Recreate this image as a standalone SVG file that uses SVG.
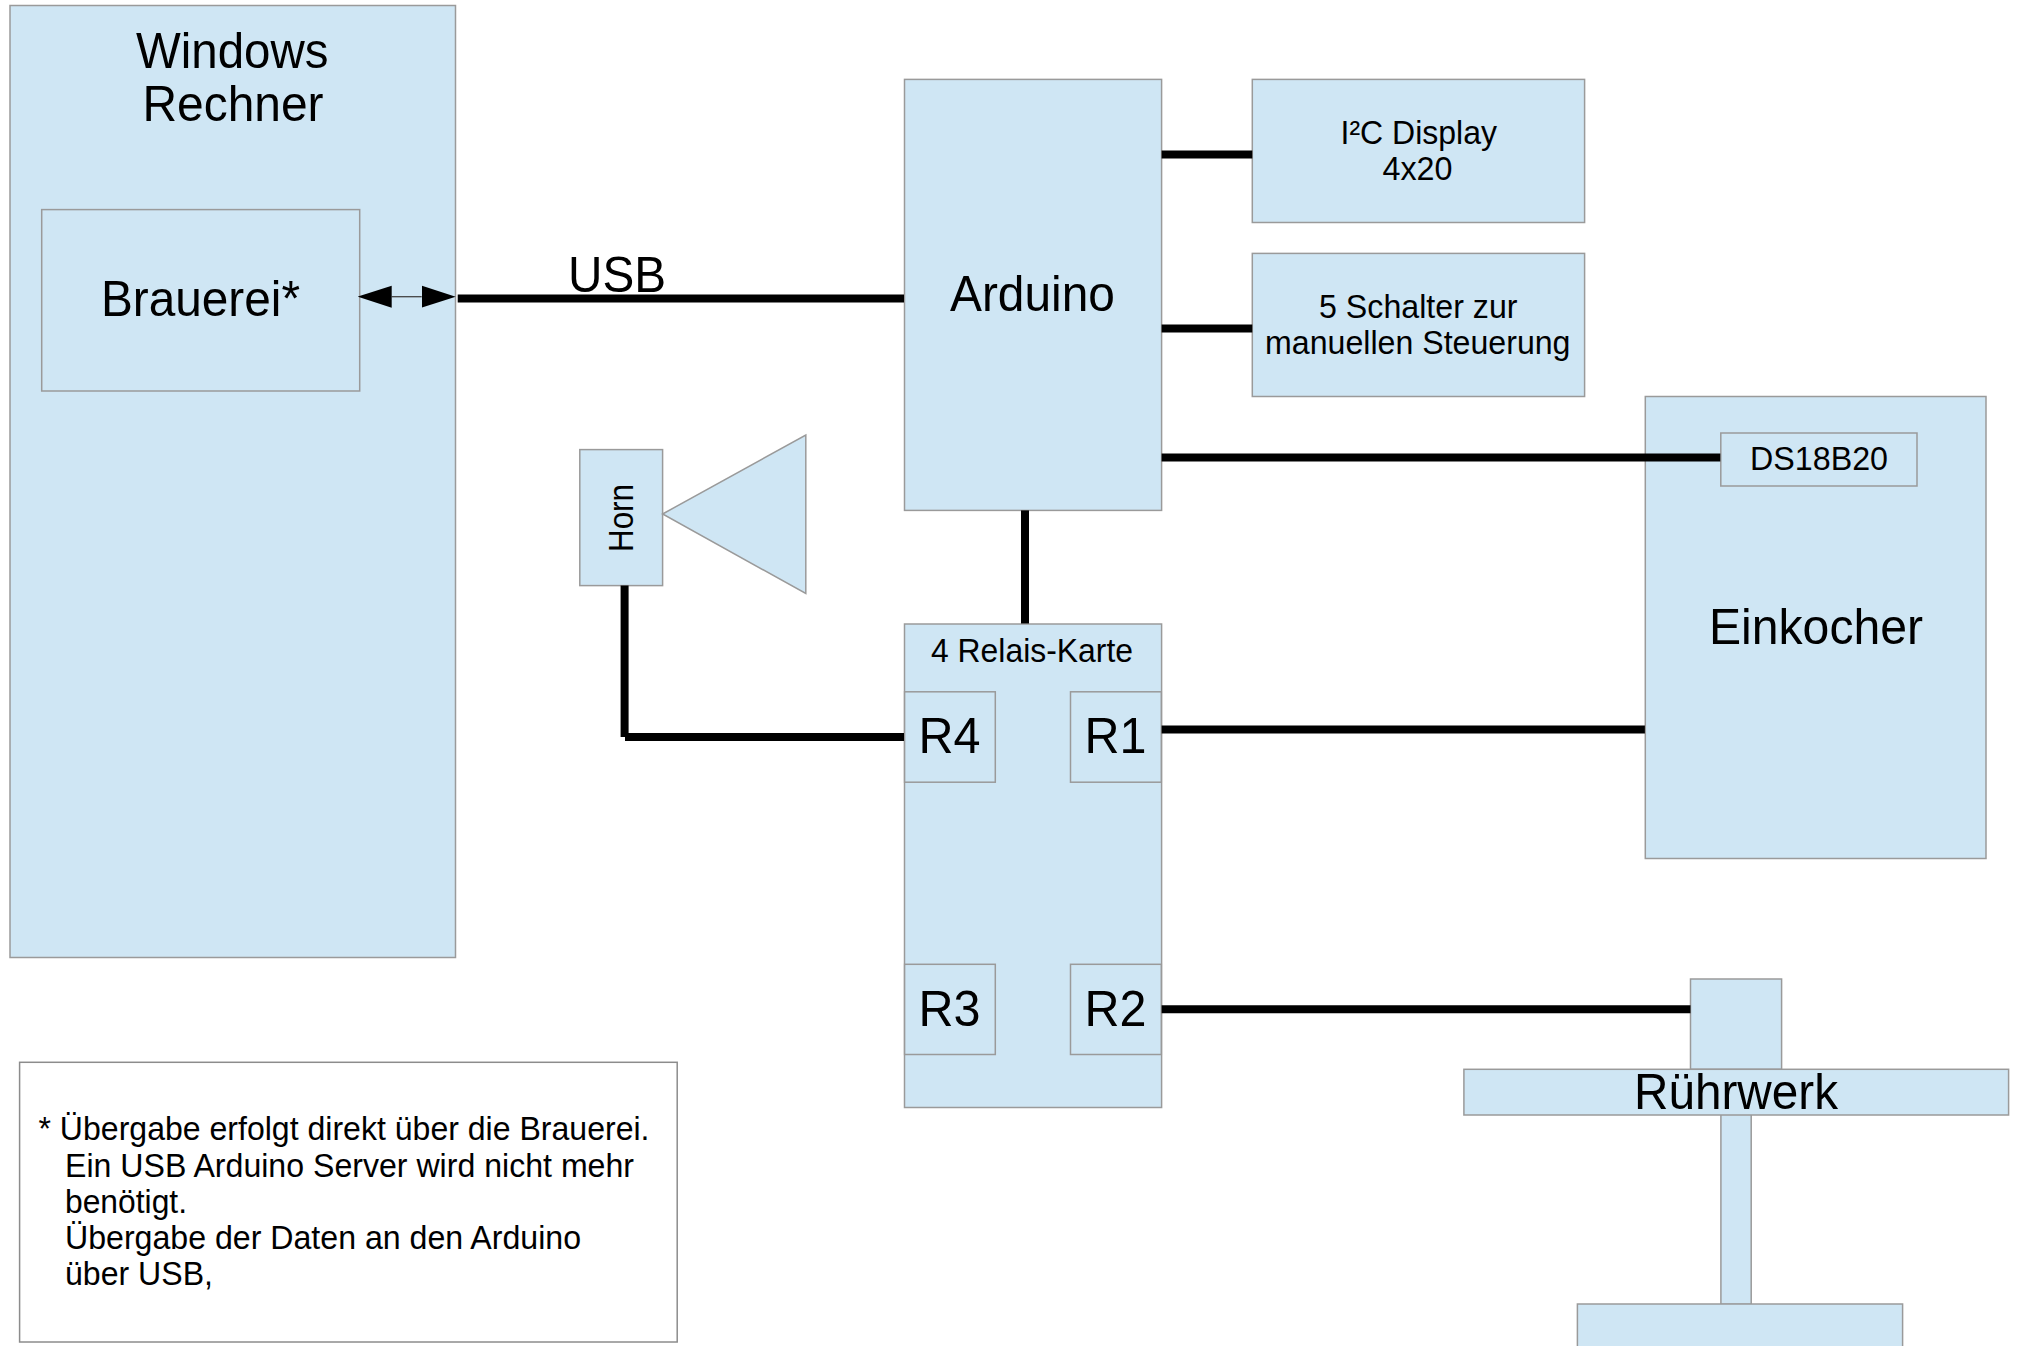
<svg xmlns="http://www.w3.org/2000/svg" width="2018" height="1346" viewBox="0 0 2018 1346">
<style>
.b{fill:#cfe6f4;stroke:#9a9a9a;stroke-width:1.5}
.n{fill:#fff;stroke:#8c8c8c;stroke-width:1.5}
.w{fill:none;stroke:#000;stroke-width:8}
text{font-family:"Liberation Sans",Arial,sans-serif;fill:#000}
.l{font-size:50px}
.m{font-size:33px}
</style>
<defs>
<marker id="a" markerUnits="userSpaceOnUse" markerWidth="34" markerHeight="24" refX="0" refY="12" orient="auto-start-reverse" viewBox="0 0 34 24"><path d="M0 1L34 12L0 23Z" fill="#000"/></marker>
</defs>
<rect width="2018" height="1346" fill="#fff"/>
<g id="windows"><rect class="b" x="10" y="5.5" width="445.5" height="952"/>
<text class="l" x="136" y="68" textLength="192.5" lengthAdjust="spacingAndGlyphs">Windows</text>
<text class="l" x="142.5" y="121" textLength="181" lengthAdjust="spacingAndGlyphs">Rechner</text></g>
<g id="brauerei"><rect class="b" x="41.7" y="209.6" width="318" height="181.4"/>
<text class="l" x="101" y="316" textLength="199" lengthAdjust="spacingAndGlyphs">Brauerei*</text></g>
<g id="arduino"><rect class="b" x="904.5" y="79.4" width="257.1" height="431"/>
<text class="l" x="950" y="311" textLength="165" lengthAdjust="spacingAndGlyphs">Arduino</text></g>
<g id="display"><rect class="b" x="1252.3" y="79.4" width="332.3" height="143.1"/>
<text class="m" x="1340.5" y="143.8" textLength="156.5" lengthAdjust="spacingAndGlyphs">I²C Display</text>
<text class="m" x="1382.5" y="179.8" textLength="70" lengthAdjust="spacingAndGlyphs">4x20</text></g>
<g id="schalter"><rect class="b" x="1252.3" y="253.4" width="332.3" height="143.1"/>
<text class="m" x="1319" y="317.8" textLength="198.5" lengthAdjust="spacingAndGlyphs">5 Schalter zur</text>
<text class="m" x="1265" y="354.2" textLength="305.5" lengthAdjust="spacingAndGlyphs">manuellen Steuerung</text></g>
<g id="einkocher"><rect class="b" x="1645.3" y="396.5" width="340.7" height="462"/>
<text class="l" x="1709" y="644" textLength="214" lengthAdjust="spacingAndGlyphs">Einkocher</text></g>
<g id="ds18b20"><rect class="b" x="1720.8" y="433" width="196.2" height="53"/>
<text class="m" x="1750" y="469.6" textLength="138" lengthAdjust="spacingAndGlyphs">DS18B20</text></g>
<g id="horn"><rect class="b" x="579.8" y="449.6" width="82.8" height="136"/>
<text transform="translate(632.6 552) rotate(-90) scale(1 1.15)" font-size="30" textLength="68" lengthAdjust="spacingAndGlyphs">Horn</text></g>
<g id="trichter"><polygon class="b" points="662.6,514 805.8,435 805.8,593.5"/></g>
<g id="relais"><rect class="b" x="904.5" y="624" width="257.1" height="483.5"/>
<text class="m" x="931" y="662" textLength="202" lengthAdjust="spacingAndGlyphs">4 Relais-Karte</text></g>
<g id="r4"><rect class="b" x="904.6" y="691.8" width="90.7" height="90.4"/>
<text class="l" x="918.5" y="753" textLength="62" lengthAdjust="spacingAndGlyphs">R4</text></g>
<g id="r1"><rect class="b" x="1070.5" y="691.8" width="90.8" height="90.4"/>
<text class="l" x="1084.5" y="753" textLength="62" lengthAdjust="spacingAndGlyphs">R1</text></g>
<g id="r3"><rect class="b" x="904.6" y="964.3" width="90.7" height="90.2"/>
<text class="l" x="918.5" y="1026" textLength="62" lengthAdjust="spacingAndGlyphs">R3</text></g>
<g id="r2"><rect class="b" x="1070.5" y="964.3" width="90.8" height="90.2"/>
<text class="l" x="1084.5" y="1026" textLength="62" lengthAdjust="spacingAndGlyphs">R2</text></g>
<g id="motor"><rect class="b" x="1690.5" y="979" width="91.1" height="90.3"/></g>
<g id="welle"><rect class="b" x="1720.9" y="1114.3" width="30.3" height="190"/></g>
<g id="sockel"><rect class="b" x="1577.4" y="1304" width="325.2" height="60"/></g>
<g id="ruehrwerk"><rect class="b" x="1463.9" y="1069.3" width="544.7" height="45.7"/>
<text class="l" x="1634" y="1109.3" textLength="204" lengthAdjust="spacingAndGlyphs">Rührwerk</text></g>
<g id="hinweis"><rect class="n" x="19.6" y="1062.3" width="657.6" height="279.7"/>
<text class="m" x="38.5" y="1140" textLength="611" lengthAdjust="spacingAndGlyphs">* Übergabe erfolgt direkt über die Brauerei.</text>
<text class="m" x="65" y="1176.5" textLength="569" lengthAdjust="spacingAndGlyphs">Ein USB Arduino Server wird nicht mehr</text>
<text class="m" x="65" y="1212.5" textLength="122" lengthAdjust="spacingAndGlyphs">benötigt.</text>
<text class="m" x="65" y="1248.5" textLength="516" lengthAdjust="spacingAndGlyphs">Übergabe der Daten an den Arduino</text>
<text class="m" x="65" y="1284.5" textLength="148" lengthAdjust="spacingAndGlyphs">über USB,</text></g>
<text id="usb" class="l" x="568" y="292" textLength="98" lengthAdjust="spacingAndGlyphs">USB</text>
<g id="connectors">
<line x1="391.7" y1="296.7" x2="421.7" y2="296.7" stroke="#444" stroke-width="1.3" marker-start="url(#a)" marker-end="url(#a)"/>
<line class="w" x1="457.7" y1="298.5" x2="904" y2="298.5"/>
<line class="w" x1="1161.6" y1="154.5" x2="1252.3" y2="154.5"/>
<line class="w" x1="1161.6" y1="328.5" x2="1252.3" y2="328.5"/>
<line class="w" x1="1161.6" y1="457.4" x2="1720.3" y2="457.4"/>
<line class="w" x1="1025" y1="510.4" x2="1025" y2="623.5"/>
<line class="w" x1="624.6" y1="585.6" x2="624.6" y2="737"/>
<line class="w" x1="625" y1="737" x2="904" y2="737"/>
<line class="w" x1="1161.6" y1="729.5" x2="1644.9" y2="729.5"/>
<line class="w" x1="1161.6" y1="1009.3" x2="1690.5" y2="1009.3"/>
</g>
</svg>
